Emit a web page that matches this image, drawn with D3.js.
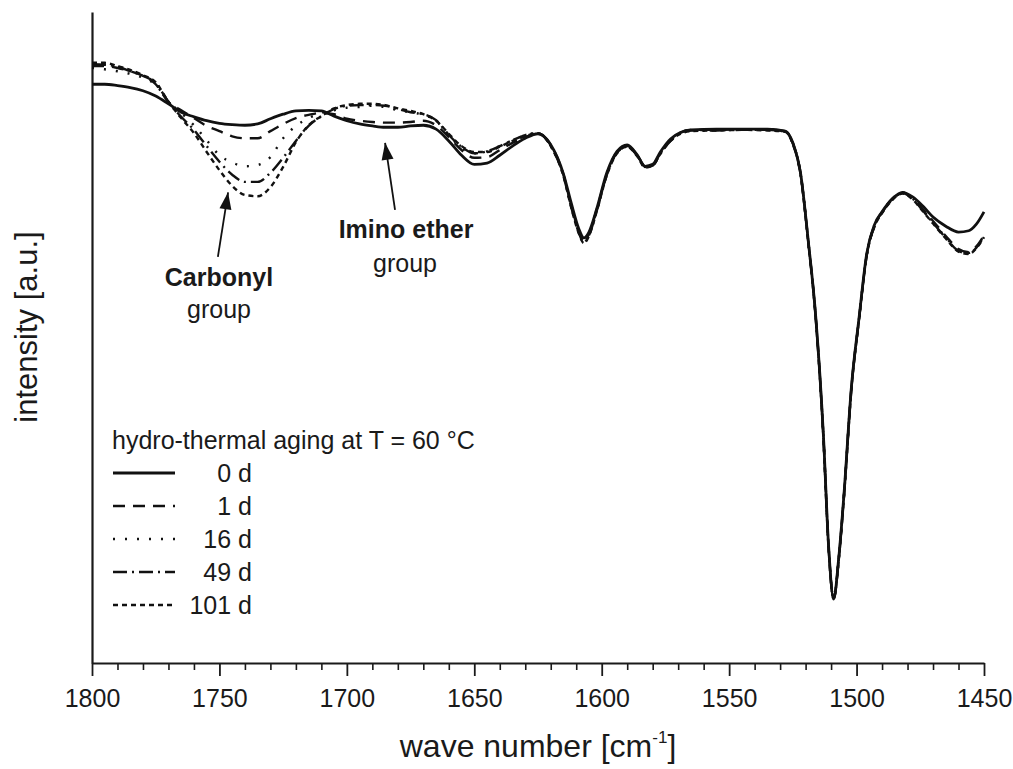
<!DOCTYPE html>
<html>
<head>
<meta charset="utf-8">
<script src="https://cdn.jsdelivr.net/npm/d3@7"></script>
<style>
  body { margin: 0; background: #fff; }
  text { font-family: "Liberation Sans", Arial, sans-serif; fill: #1a1a1a; }
</style>
</head>
<body>
<svg id="chart" width="1013" height="769"></svg>
<script>
// wave numbers shared by all series [cm-1]
const wavenumbers = [
  1800, 1795, 1790, 1785, 1780, 1775, 1770, 1765, 1760, 1755,
  1750, 1745, 1740, 1735, 1730, 1725, 1720, 1715, 1710, 1705,
  1700, 1695, 1690, 1685, 1680, 1675, 1670, 1665, 1660, 1655,
  1650, 1645, 1640, 1635, 1630, 1625, 1620, 1615, 1612, 1609,
  1607, 1605, 1602, 1598, 1594, 1590, 1586, 1583, 1580, 1577,
  1573, 1565, 1555, 1545, 1535, 1528, 1525, 1522, 1519, 1516,
  1513, 1511, 1509, 1507, 1505, 1502, 1499, 1496, 1493, 1490,
  1486, 1482, 1478, 1474, 1470, 1465, 1460, 1456, 1453, 1450
];

// intensity [a.u.] per aging time
const d0 = [
  88.9, 88.9, 88.7, 88.4, 87.9, 87.1, 85.9, 84.6, 83.9, 83.3,
  82.9, 82.7, 82.6, 82.8, 83.6, 84.3, 84.8, 84.9, 84.8, 84.0,
  83.3, 82.8, 82.5, 82.3, 82.3, 82.5, 82.6, 82.0, 80.2, 78.0,
  76.6, 76.8, 78.0, 79.4, 80.6, 81.3, 79.6, 75.1, 70.7, 66.7,
  65.3, 66.2, 69.7, 75.3, 78.6, 79.6, 78.0, 76.3, 76.6, 78.5,
  80.5, 81.9, 82.0, 82.0, 82.0, 81.7, 79.9, 75.3, 65.0, 53.1,
  34.9, 18.1, 10.0, 16.1, 25.6, 42.5, 53.1, 62.9, 67.3, 69.3,
  71.3, 72.3, 71.6, 70.2, 68.5, 67.1, 66.2, 66.4, 67.4, 69.3
];
const d1 = [
  91.7, 91.7, 91.4, 90.9, 90.2, 88.9, 86.2, 84.9, 83.7, 82.5,
  81.7, 80.9, 80.6, 80.6, 81.7, 82.8, 83.7, 84.2, 84.5, 84.3,
  83.6, 83.3, 83.1, 83.0, 83.0, 83.1, 83.3, 82.6, 80.8, 78.8,
  77.6, 77.7, 78.8, 79.9, 80.8, 81.3, 79.6, 75.0, 70.3, 66.4,
  64.8, 65.9, 69.6, 75.1, 78.5, 79.4, 78.0, 76.3, 76.5, 78.3,
  80.3, 81.9, 81.9, 82.0, 81.9, 81.7, 79.9, 75.3, 65.0, 53.0,
  34.7, 18.0, 9.8, 16.0, 25.5, 42.4, 53.0, 62.7, 67.2, 69.3,
  71.3, 72.3, 71.4, 69.7, 67.9, 65.6, 63.6, 63.1, 64.0, 65.7
];
const d16 = [
  91.4, 91.2, 90.9, 90.5, 89.9, 88.8, 86.2, 84.5, 82.6, 80.3,
  78.0, 76.9, 76.3, 76.5, 77.7, 80.6, 82.5, 83.7, 84.5, 84.9,
  85.3, 85.4, 85.6, 85.4, 84.9, 84.6, 84.2, 83.3, 81.1, 79.1,
  78.3, 78.6, 79.4, 80.3, 81.1, 81.4, 79.5, 74.9, 70.2, 66.2,
  64.7, 65.8, 69.5, 75.0, 78.4, 79.4, 77.9, 76.2, 76.5, 78.3,
  80.3, 81.8, 81.9, 81.9, 82.0, 81.6, 79.8, 75.2, 64.9, 52.9,
  34.6, 17.9, 9.9, 16.0, 25.4, 42.3, 53.0, 62.8, 67.1, 69.2,
  71.2, 72.2, 71.3, 69.6, 67.7, 65.4, 63.4, 63.0, 63.9, 65.6
];
const d49 = [
  92.0, 91.9, 91.6, 90.9, 90.2, 89.1, 86.2, 83.9, 81.9, 79.4,
  77.0, 75.0, 73.9, 73.9, 75.3, 77.6, 80.2, 82.5, 84.0, 85.1,
  85.6, 85.7, 85.7, 85.6, 85.1, 84.6, 84.3, 83.4, 81.1, 79.3,
  78.3, 78.6, 79.4, 80.3, 81.1, 81.4, 79.4, 74.8, 70.1, 66.1,
  64.6, 65.7, 69.4, 75.0, 78.4, 79.3, 77.9, 76.2, 76.4, 78.2,
  80.2, 81.8, 81.8, 81.9, 81.9, 81.6, 79.8, 75.2, 64.9, 52.9,
  34.6, 17.9, 9.8, 15.9, 25.4, 42.3, 52.9, 62.7, 67.1, 69.2,
  71.2, 72.2, 71.3, 69.5, 67.6, 65.3, 63.3, 62.9, 63.8, 65.5
];
const d101 = [
  92.2, 92.2, 91.7, 91.1, 90.3, 89.2, 86.2, 83.7, 81.4, 78.5,
  75.7, 73.3, 71.9, 71.7, 73.1, 76.2, 80.0, 82.6, 84.0, 85.2,
  85.7, 85.9, 85.9, 85.7, 85.2, 84.8, 84.3, 83.3, 81.3, 79.4,
  78.5, 78.5, 79.3, 80.2, 80.9, 81.4, 79.4, 74.8, 70.0, 66.0,
  64.5, 65.6, 69.3, 74.9, 78.3, 79.3, 77.8, 76.1, 76.4, 78.2,
  80.2, 81.7, 81.8, 81.9, 81.8, 81.6, 79.7, 75.1, 64.8, 52.8,
  34.5, 17.8, 9.8, 15.9, 25.3, 42.2, 52.9, 62.6, 67.0, 69.1,
  71.1, 72.1, 71.2, 69.4, 67.5, 65.2, 63.2, 62.8, 63.7, 65.4
];

const seriesNames = ["0 d", "1 d", "16 d", "49 d", "101 d"];
const seriesValues = [d0, d1, d16, d49, d101];
const dashes = [null, "12,8", "2,10", "14,5,2,5", "5,4"];

const xTicks = [1800, 1750, 1700, 1650, 1600, 1550, 1500, 1450];

const svg = d3.select("#chart");
const margin = { top: 12, right: 29, bottom: 106, left: 92 };
const width = 1013 - margin.left - margin.right;
const height = 769 - margin.top - margin.bottom;

const g = svg.append("g")
  .attr("transform", "translate(" + margin.left + "," + margin.top + ")");

const x = d3.scaleLinear().domain([1800, 1450]).range([0, width]);
const y = d3.scaleLinear().domain([0, 100]).range([height, 0]);

// minor ticks every 10 cm-1
const minorTicks = d3.range(1800, 1449, -10).filter(d => d % 50 !== 0);
g.append("g")
  .attr("transform", "translate(0," + height + ")")
  .call(d3.axisBottom(x).tickValues(minorTicks).tickSize(7).tickSizeOuter(0).tickFormat(""))
  .call(a => a.select(".domain").remove())
  .selectAll("line").attr("stroke", "#1a1a1a").attr("stroke-width", 1.6);

// major ticks + labels
const xAxis = g.append("g")
  .attr("transform", "translate(0," + height + ")")
  .call(d3.axisBottom(x).tickValues(xTicks).tickSize(13).tickSizeOuter(0).tickFormat(d3.format("d")));
xAxis.select(".domain").attr("stroke", "#1a1a1a").attr("stroke-width", 2.2);
xAxis.selectAll("line").attr("stroke", "#1a1a1a").attr("stroke-width", 1.8);
xAxis.selectAll("text")
  .attr("y", 44).attr("dy", 0)
  .style("font-size", "25px")
  .style("font-family", "'Liberation Sans', Arial, sans-serif")
  .attr("fill", "#1a1a1a");

// y axis, no ticks
const yAxis = g.append("g")
  .call(d3.axisLeft(y).tickValues([]).tickSizeOuter(0));
yAxis.select(".domain").attr("stroke", "#1a1a1a").attr("stroke-width", 2.2);

// spectra
const line = d3.line()
  .x((d, i) => x(wavenumbers[i]))
  .y(d => y(d))
  .curve(d3.curveMonotoneX);

seriesValues.slice().reverse().forEach((vals, j) => {
  const k = seriesValues.length - 1 - j;
  g.append("path")
    .datum(vals)
    .attr("fill", "none")
    .attr("stroke", "#111")
    .attr("stroke-width", k === 0 ? 2.8 : 2.4)
    .attr("stroke-dasharray", dashes[k])
    .attr("d", line);
});

// annotation arrows (wave number, intensity)
const arrows = [
  { from: [1750.6, 62.4], to: [1746.6, 72.3] },
  { from: [1681.1, 69.6], to: [1685.0, 79.9] }
];
arrows.forEach(a => {
  const x1 = x(a.from[0]), y1 = y(a.from[1]);
  const x2 = x(a.to[0]), y2 = y(a.to[1]);
  g.append("line")
    .attr("x1", x1).attr("y1", y1).attr("x2", x2).attr("y2", y2)
    .attr("stroke", "#111").attr("stroke-width", 1.8);
  const ang = Math.atan2(y2 - y1, x2 - x1);
  const len = 17, half = 6;
  const bx = x2 - len * Math.cos(ang), by = y2 - len * Math.sin(ang);
  const px = -Math.sin(ang) * half, py = Math.cos(ang) * half;
  g.append("path")
    .attr("d", "M" + x2 + "," + y2 + "L" + (bx + px) + "," + (by + py) + "L" + (bx - px) + "," + (by - py) + "Z")
    .attr("fill", "#111");
});

const labels = [
  { t: "Carbonyl", x: 219, y: 286, bold: true },
  { t: "group", x: 219, y: 318, bold: false },
  { t: "Imino ether", x: 406, y: 238, bold: true },
  { t: "group", x: 405, y: 272, bold: false }
];
svg.selectAll(".ann").data(labels).enter().append("text")
  .attr("x", d => d.x).attr("y", d => d.y)
  .attr("text-anchor", "middle")
  .style("font-size", "25px")
  .style("font-weight", d => d.bold ? "bold" : "normal")
  .text(d => d.t);

// legend
const legend = svg.append("g");
legend.append("text")
  .attr("x", 112).attr("y", 449)
  .style("font-size", "25px")
  .text("hydro-thermal aging at T = 60 °C");
seriesNames.forEach((name, i) => {
  const ly = 473 + i * 33;
  legend.append("line")
    .attr("x1", 113).attr("x2", 175).attr("y1", ly).attr("y2", ly)
    .attr("stroke", "#111").attr("stroke-width", i === 0 ? 2.8 : 2.4)
    .attr("stroke-dasharray", dashes[i]);
  legend.append("text")
    .attr("x", 252).attr("y", ly + 9)
    .attr("text-anchor", "end")
    .style("font-size", "25px")
    .text(name);
});

// axis titles
svg.append("text")
  .attr("transform", "translate(37,327) rotate(-90)")
  .attr("text-anchor", "middle")
  .style("font-size", "31px")
  .text("intensity [a.u.]");

const xt = svg.append("text")
  .attr("x", 538).attr("y", 757)
  .attr("text-anchor", "middle")
  .style("font-size", "32px");
xt.append("tspan").text("wave number [cm");
xt.append("tspan").attr("dy", -14).style("font-size", "17px").text("-1");
xt.append("tspan").attr("dy", 14).text("]");
</script>
</body>
</html>
